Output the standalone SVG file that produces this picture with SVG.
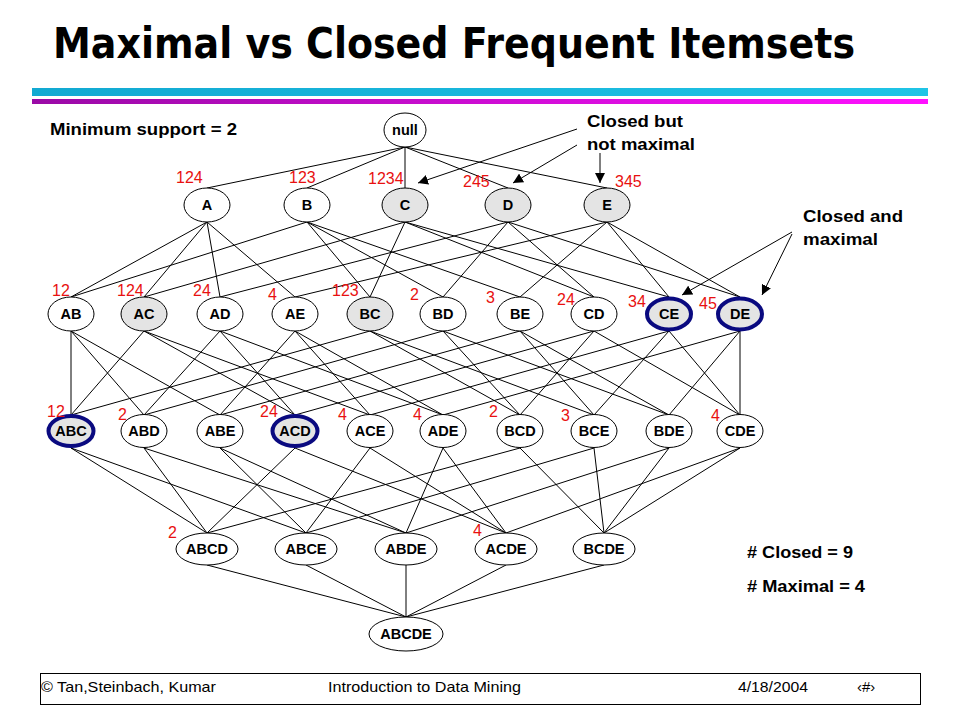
<svg xmlns="http://www.w3.org/2000/svg" width="960" height="720" viewBox="0 0 960 720">
<defs>
<linearGradient id="cy" x1="0" y1="0" x2="1" y2="0"><stop offset="0" stop-color="#12a9d2"/><stop offset="1" stop-color="#1fc4e6"/></linearGradient>
<linearGradient id="mg" x1="0" y1="0" x2="1" y2="0"><stop offset="0" stop-color="#9a0aa6"/><stop offset="1" stop-color="#ff10ff"/></linearGradient>
<marker id="ah" viewBox="0 0 10 10" refX="10" refY="5" markerWidth="10" markerHeight="10" markerUnits="userSpaceOnUse" orient="auto"><path d="M0,0 L10,5 L0,10 z" fill="#000"/></marker>
<style>
.n ellipse{fill:#fff;stroke:#000;stroke-width:1}
.g ellipse{fill:#e4e4e4}
.m ellipse{fill:#e4e4e4;stroke:#0a0a80;stroke-width:4}
.n text{font-family:"Liberation Sans",Arial,sans-serif;font-weight:bold;font-size:14.5px;text-anchor:middle;fill:#000}
.s{font-family:"Liberation Sans",Arial,sans-serif;font-size:16px;fill:#e81010}
.b{font-family:"Liberation Sans",Arial,sans-serif;font-weight:bold;font-size:17px;fill:#000}
.f{font-family:"Liberation Sans",Arial,sans-serif;font-size:15px;fill:#000}
#edges path{stroke:#000;stroke-width:1;fill:none}
#arrows path{stroke:#000;stroke-width:1;fill:none;marker-end:url(#ah)}
</style>
</defs>
<rect width="960" height="720" fill="#fff"/>
<text x="53" y="58" font-family="'DejaVu Sans',Tahoma,sans-serif" font-weight="bold" font-size="43" textLength="802" lengthAdjust="spacingAndGlyphs">Maximal vs Closed Frequent Itemsets</text>
<rect x="32" y="88" width="896" height="8" fill="url(#cy)"/>
<rect x="32" y="99" width="896" height="5" fill="url(#mg)"/>
<text class="b" x="50" y="135" textLength="187" lengthAdjust="spacingAndGlyphs">Minimum support = 2</text>
<g id="edges">
<path d="M405,147L207,188M405,147L307,188M405,147L405,188M405,147L508,188M405,147L607,188"/>
<path d="M207,222L71,297M207,222L144,297M207,222L220,297M207,222L295,297"/>
<path d="M307,222L71,297M307,222L370,297M307,222L443,297M307,222L520,297"/>
<path d="M405,222L144,297M405,222L370,297M405,222L594,297M405,222L669,297"/>
<path d="M508,222L220,297M508,222L443,297M508,222L594,297M508,222L740,297"/>
<path d="M607,222L295,297M607,222L520,297M607,222L669,297M607,222L740,297"/>
<path d="M71,331L71,415M71,331L144,415M71,331L220,415"/>
<path d="M144,331L71,415M144,331L295,415M144,331L370,415"/>
<path d="M220,331L144,415M220,331L295,415M220,331L443,415"/>
<path d="M295,331L220,415M295,331L370,415M295,331L443,415"/>
<path d="M370,331L71,415M370,331L520,415M370,331L594,415"/>
<path d="M443,331L144,415M443,331L520,415M443,331L669,415"/>
<path d="M520,331L220,415M520,331L594,415M520,331L669,415"/>
<path d="M594,331L295,415M594,331L520,415M594,331L740,415"/>
<path d="M669,331L370,415M669,331L594,415M669,331L740,415"/>
<path d="M740,331L443,415M740,331L669,415M740,331L740,415"/>
<path d="M71,448L207,533M71,448L306,533"/>
<path d="M144,448L207,533M144,448L406,533"/>
<path d="M220,448L306,533M220,448L406,533"/>
<path d="M295,448L207,533M295,448L506,533"/>
<path d="M370,448L306,533M370,448L506,533"/>
<path d="M443,448L406,533M443,448L506,533"/>
<path d="M520,448L207,533M520,448L604,533"/>
<path d="M594,448L306,533M594,448L604,533"/>
<path d="M669,448L406,533M669,448L604,533"/>
<path d="M740,448L506,533M740,448L604,533"/>
<path d="M207,565L406,617M306,565L406,617M406,565L406,617M506,565L406,617M604,565L406,617"/>
</g>
<g id="n-null" class="n"><ellipse cx="405" cy="130" rx="21" ry="17"/><text x="405" y="135">null</text></g>
<g id="n-A" class="n"><ellipse cx="207" cy="205" rx="23" ry="17"/><text x="207" y="210">A</text></g>
<g id="n-B" class="n"><ellipse cx="307" cy="205" rx="23" ry="17"/><text x="307" y="210">B</text></g>
<g id="n-C" class="n g"><ellipse cx="405" cy="205" rx="23" ry="17"/><text x="405" y="210">C</text></g>
<g id="n-D" class="n g"><ellipse cx="508" cy="205" rx="23" ry="17"/><text x="508" y="210">D</text></g>
<g id="n-E" class="n g"><ellipse cx="607" cy="205" rx="23" ry="17"/><text x="607" y="210">E</text></g>
<g id="n-AB" class="n"><ellipse cx="71" cy="314" rx="23" ry="17"/><text x="71" y="319">AB</text></g>
<g id="n-AC" class="n g"><ellipse cx="144" cy="314" rx="23" ry="17"/><text x="144" y="319">AC</text></g>
<g id="n-AD" class="n"><ellipse cx="220" cy="314" rx="23" ry="17"/><text x="220" y="319">AD</text></g>
<g id="n-AE" class="n"><ellipse cx="295" cy="314" rx="23" ry="17"/><text x="295" y="319">AE</text></g>
<g id="n-BC" class="n g"><ellipse cx="370" cy="314" rx="23" ry="17"/><text x="370" y="319">BC</text></g>
<g id="n-BD" class="n"><ellipse cx="443" cy="314" rx="23" ry="17"/><text x="443" y="319">BD</text></g>
<g id="n-BE" class="n"><ellipse cx="520" cy="314" rx="23" ry="17"/><text x="520" y="319">BE</text></g>
<g id="n-CD" class="n"><ellipse cx="594" cy="314" rx="23" ry="17"/><text x="594" y="319">CD</text></g>
<g id="n-CE" class="n m"><ellipse cx="669" cy="314" rx="22" ry="15.5"/><text x="669" y="319">CE</text></g>
<g id="n-DE" class="n m"><ellipse cx="740" cy="314" rx="22" ry="15.5"/><text x="740" y="319">DE</text></g>
<g id="n-ABC" class="n m"><ellipse cx="71" cy="431" rx="22.5" ry="15"/><text x="71" y="436">ABC</text></g>
<g id="n-ABD" class="n"><ellipse cx="144" cy="431" rx="23" ry="16.5"/><text x="144" y="436">ABD</text></g>
<g id="n-ABE" class="n"><ellipse cx="220" cy="431" rx="23" ry="16.5"/><text x="220" y="436">ABE</text></g>
<g id="n-ACD" class="n m"><ellipse cx="295" cy="431" rx="22.5" ry="15"/><text x="295" y="436">ACD</text></g>
<g id="n-ACE" class="n"><ellipse cx="370" cy="431" rx="23" ry="16.5"/><text x="370" y="436">ACE</text></g>
<g id="n-ADE" class="n"><ellipse cx="443" cy="431" rx="23" ry="16.5"/><text x="443" y="436">ADE</text></g>
<g id="n-BCD" class="n"><ellipse cx="520" cy="431" rx="23" ry="16.5"/><text x="520" y="436">BCD</text></g>
<g id="n-BCE" class="n"><ellipse cx="594" cy="431" rx="23" ry="16.5"/><text x="594" y="436">BCE</text></g>
<g id="n-BDE" class="n"><ellipse cx="669" cy="431" rx="23" ry="16.5"/><text x="669" y="436">BDE</text></g>
<g id="n-CDE" class="n"><ellipse cx="740" cy="431" rx="23" ry="16.5"/><text x="740" y="436">CDE</text></g>
<g id="n-ABCD" class="n"><ellipse cx="207" cy="549" rx="31" ry="16"/><text x="207" y="554">ABCD</text></g>
<g id="n-ABCE" class="n"><ellipse cx="306" cy="549" rx="31" ry="16"/><text x="306" y="554">ABCE</text></g>
<g id="n-ABDE" class="n"><ellipse cx="406" cy="549" rx="31" ry="16"/><text x="406" y="554">ABDE</text></g>
<g id="n-ACDE" class="n"><ellipse cx="506" cy="549" rx="31" ry="16"/><text x="506" y="554">ACDE</text></g>
<g id="n-BCDE" class="n"><ellipse cx="604" cy="549" rx="31" ry="16"/><text x="604" y="554">BCDE</text></g>
<g id="n-ABCDE" class="n"><ellipse cx="406" cy="634" rx="37" ry="17"/><text x="406" y="639">ABCDE</text></g>
<g id="supports">
<text class="s" x="176" y="183">124</text>
<text class="s" x="289" y="183">123</text>
<text class="s" x="368" y="184">1234</text>
<text class="s" x="463" y="187">245</text>
<text class="s" x="615" y="187">345</text>
<text class="s" x="52" y="296">12</text>
<text class="s" x="117" y="296">124</text>
<text class="s" x="193" y="296">24</text>
<text class="s" x="268" y="300">4</text>
<text class="s" x="332" y="296">123</text>
<text class="s" x="410" y="300">2</text>
<text class="s" x="486" y="303">3</text>
<text class="s" x="557" y="305">24</text>
<text class="s" x="628" y="307">34</text>
<text class="s" x="699" y="309">45</text>
<text class="s" x="47" y="417">12</text>
<text class="s" x="118" y="420">2</text>
<text class="s" x="260" y="417">24</text>
<text class="s" x="338" y="420">4</text>
<text class="s" x="413" y="420">4</text>
<text class="s" x="489" y="417">2</text>
<text class="s" x="561" y="421">3</text>
<text class="s" x="711" y="421">4</text>
<text class="s" x="168" y="538">2</text>
<text class="s" x="473" y="536">4</text>
</g>
<g id="arrows">
<path d="M577,129L418,183"/>
<path d="M577,145L513,183"/>
<path d="M600,153L600,183"/>
<path d="M792,232L682,295"/>
<path d="M792,234L762,295"/>
</g>
<text class="b" x="587" y="127" textLength="96" lengthAdjust="spacingAndGlyphs">Closed but</text>
<text class="b" x="587" y="150" textLength="108" lengthAdjust="spacingAndGlyphs">not maximal</text>
<text class="b" x="803" y="222" textLength="100" lengthAdjust="spacingAndGlyphs">Closed and</text>
<text class="b" x="803" y="245" textLength="75" lengthAdjust="spacingAndGlyphs">maximal</text>
<text class="b" x="747" y="558" textLength="106" lengthAdjust="spacingAndGlyphs"># Closed = 9</text>
<text class="b" x="747" y="592" textLength="118" lengthAdjust="spacingAndGlyphs"># Maximal = 4</text>
<rect x="40.5" y="673.5" width="880" height="31" fill="none" stroke="#000" stroke-width="1"/>
<text class="f" x="41" y="692" textLength="175" lengthAdjust="spacingAndGlyphs">© Tan,Steinbach, Kumar</text>
<text class="f" x="328" y="692" textLength="193" lengthAdjust="spacingAndGlyphs">Introduction to Data Mining</text>
<text class="f" x="738" y="692" textLength="70" lengthAdjust="spacingAndGlyphs">4/18/2004</text>
<text class="f" x="857" y="692">‹#›</text>
</svg>
